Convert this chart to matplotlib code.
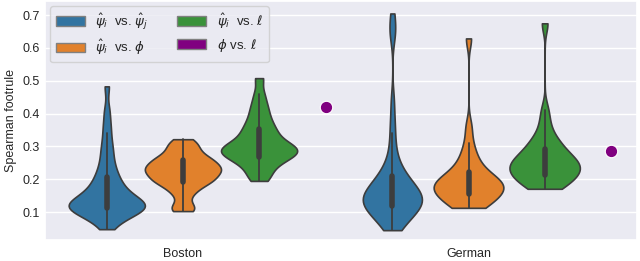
import numpy as np
import pandas as pd
import matplotlib
matplotlib.use("Agg")
import matplotlib.pyplot as plt
import seaborn as sns
from matplotlib.patches import Patch

datasets = ["Boston", "German"]
hue_labels = [r"$\hat{\psi}_i$  vs. $\hat{\psi}_j$", r"$\hat{\psi}_i$  vs. $\phi$",
              r"$\hat{\psi}_i$  vs. $\ell$"]
extra_label = r"$\phi$ vs. $\ell$"

boston_psi_psi = [0.048, 0.065, 0.075, 0.085, 0.09, 0.095, 0.10, 0.10, 0.105, 0.11, 0.11,
                  0.115, 0.115, 0.12, 0.12, 0.12, 0.125, 0.125, 0.13, 0.13, 0.135, 0.14,
                  0.145, 0.15, 0.155, 0.16, 0.17, 0.175, 0.18, 0.19, 0.20, 0.21, 0.22,
                  0.235, 0.25, 0.27, 0.29, 0.31, 0.34, 0.37, 0.41, 0.483]
boston_psi_phi = [0.103, 0.11, 0.125, 0.15, 0.165, 0.175, 0.185, 0.19, 0.195, 0.20, 0.205,
                  0.21, 0.215, 0.22, 0.225, 0.23, 0.23, 0.235, 0.24, 0.245, 0.25, 0.255,
                  0.26, 0.265, 0.27, 0.28, 0.29, 0.30, 0.31, 0.322]
boston_psi_ell = [0.195, 0.21, 0.225, 0.24, 0.25, 0.26, 0.265, 0.27, 0.275, 0.28, 0.285,
                  0.29, 0.29, 0.295, 0.30, 0.305, 0.31, 0.32, 0.33, 0.34, 0.35, 0.36,
                  0.375, 0.39, 0.41, 0.43, 0.46, 0.508]
german_psi_psi = [0.045, 0.055, 0.065, 0.07, 0.08, 0.085, 0.09, 0.095, 0.10, 0.105, 0.11,
                  0.115, 0.12, 0.12, 0.125, 0.125, 0.13, 0.13, 0.135, 0.135, 0.14, 0.14,
                  0.145, 0.15, 0.15, 0.155, 0.16, 0.16, 0.165, 0.17, 0.17, 0.18, 0.185,
                  0.19, 0.195, 0.20, 0.21, 0.215, 0.22, 0.235, 0.25, 0.27, 0.30, 0.34,
                  0.38, 0.44, 0.64, 0.66, 0.705]
german_psi_phi = [0.113, 0.115, 0.12, 0.13, 0.14, 0.145, 0.15, 0.155, 0.16, 0.165, 0.17,
                  0.175, 0.18, 0.18, 0.185, 0.19, 0.195, 0.20, 0.205, 0.21, 0.22, 0.23,
                  0.245, 0.26, 0.28, 0.31, 0.36, 0.629]
german_psi_ell = [0.171, 0.175, 0.18, 0.19, 0.20, 0.205, 0.21, 0.215, 0.22, 0.225, 0.23,
                  0.235, 0.24, 0.245, 0.25, 0.255, 0.26, 0.265, 0.27, 0.28, 0.29, 0.30,
                  0.31, 0.32, 0.34, 0.37, 0.41, 0.675]
phi_vs_ell = [0.421, 0.287]

groups = {
    ("Boston", hue_labels[0]): boston_psi_psi,
    ("Boston", hue_labels[1]): boston_psi_phi,
    ("Boston", hue_labels[2]): boston_psi_ell,
    ("German", hue_labels[0]): german_psi_psi,
    ("German", hue_labels[1]): german_psi_phi,
    ("German", hue_labels[2]): german_psi_ell,
}
rows = []
for (ds, h), vals in groups.items():
    for v in vals:
        rows.append({"dataset": ds, "pair": h, "value": v})
df = pd.DataFrame(rows)

sns.set_theme(style="darkgrid")
plt.rcParams["font.family"] = ["Liberation Sans", "DejaVu Sans"]
plt.rcParams["mathtext.fontset"] = "dejavusans"

fig = plt.figure(figsize=(6.4, 2.61), dpi=100)
ax = fig.add_axes([45 / 640, 21 / 261, 592 / 640, 239 / 261])

palette = sns.color_palette("tab10")[:3]
sns.violinplot(data=df, x="dataset", y="value", hue="pair", order=datasets,
               hue_order=hue_labels, cut=0, inner="box", linewidth=1.2,
               bw_adjust=0.55, palette=palette, ax=ax, legend=False,
               inner_kws=dict(box_width=4, whis_width=1.3, marker=""))

ax.scatter(np.arange(len(datasets)) + 0.5, phi_vs_ell, s=80, color="#800080",
           edgecolor="white", linewidth=0.8, zorder=5)

ax.set_xlim(-0.483, 1.59)
ax.set_ylim(0.015, 0.743)
ax.set_yticks([0.1, 0.2, 0.3, 0.4, 0.5, 0.6, 0.7])
ax.set_xlabel("")
ax.set_ylabel("Spearman footrule", fontsize=9, labelpad=4)
ax.tick_params(axis="x", labelsize=9, pad=6, length=0)
ax.tick_params(axis="y", labelsize=9, pad=4, length=0)

sat = sns.color_palette(palette, desat=0.75)
handles = [Patch(facecolor=sat[0], edgecolor="gray", label=hue_labels[0]),
           Patch(facecolor=sat[1], edgecolor="gray", label=hue_labels[1]),
           Patch(facecolor=sat[2], edgecolor="gray", label=hue_labels[2]),
           Patch(facecolor="#800080", edgecolor="gray", label=extra_label)]
ax.legend(handles=handles, ncol=2, loc="upper left", fontsize=9.5,
          bbox_to_anchor=(0.0, 1.0), handlelength=2.2, handleheight=0.7,
          handletextpad=0.8, columnspacing=2.2, labelspacing=0.45,
          borderaxespad=0.4, frameon=True)

fig.savefig("out.png", dpi=100)
